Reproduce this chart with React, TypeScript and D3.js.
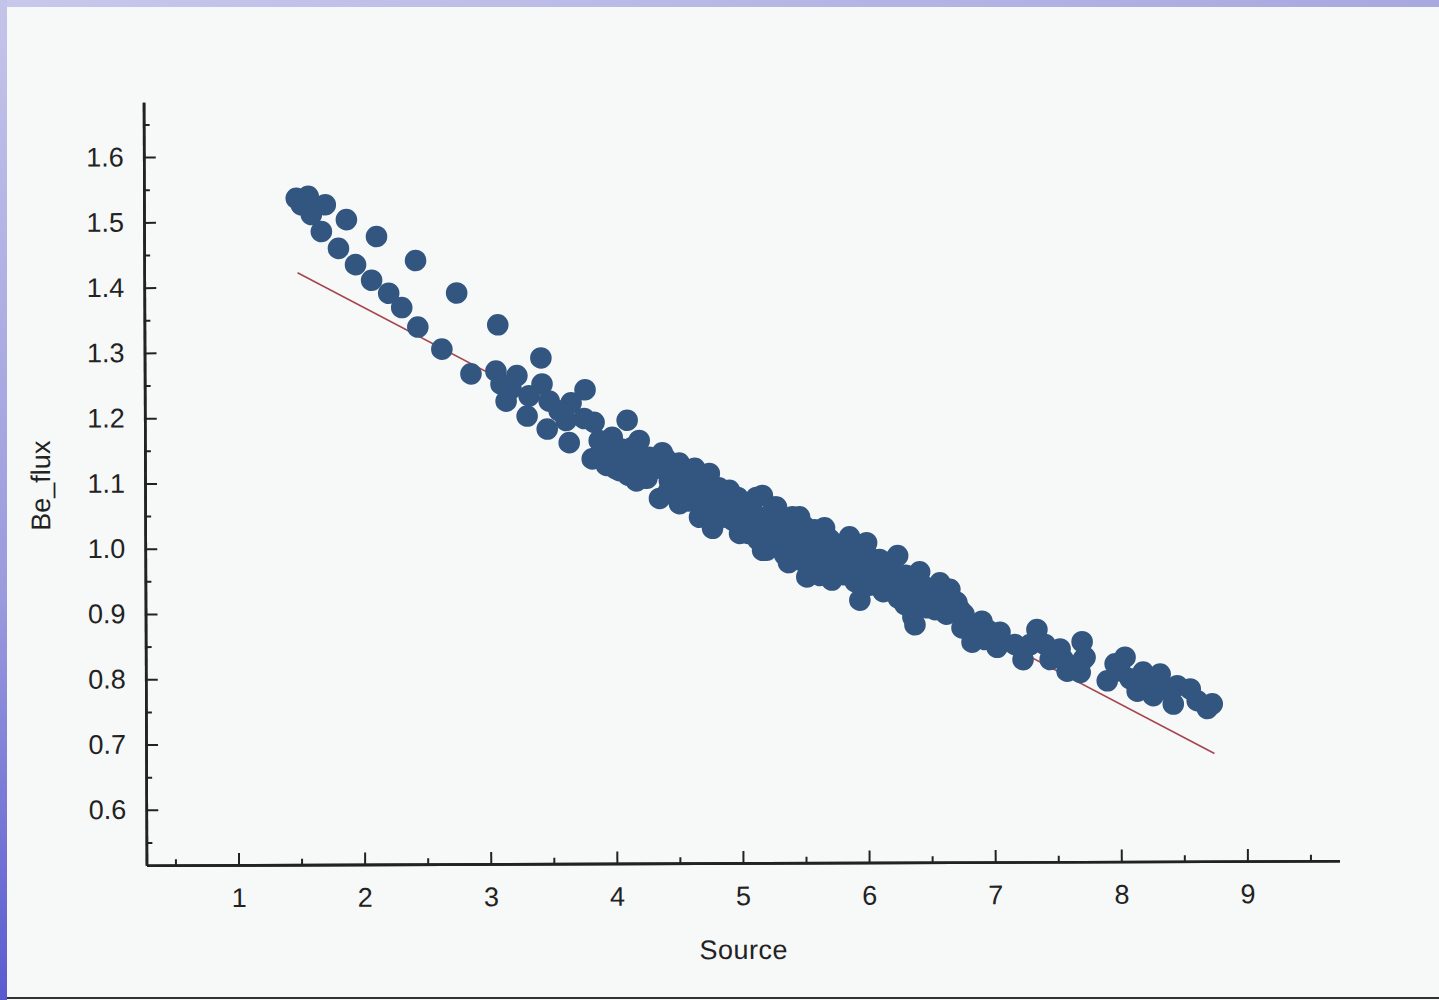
// @ts-nocheck
import React, { useEffect, useRef } from "react";
import * as d3 from "d3";

// Source values (x) and Be_flux values (y)
const sourceVals = [
  1.478, 1.573, 1.518, 1.542, 1.708, 1.597, 1.676, 1.875, 2.113, 1.811,
  1.946, 2.073, 2.208, 2.311, 2.422, 2.438, 2.747, 2.628, 3.072, 3.413,
  2.858, 3.056, 3.222, 3.096, 3.136, 3.421, 3.302, 3.477, 3.651, 3.762,
  3.461, 3.635, 3.611, 3.833, 4.095, 3.849, 3.976, 4.135, 4.032, 4.27,
  3.754, 3.175, 3.318, 3.556, 3.817, 4.373, 4.166, 4.349, 4.507, 4.745,
  4.507, 4.666, 4.904, 5.118, 4.769, 5.277, 4.983, 5.165, 5.403, 4.23,
  4.587, 4.825, 4.983, 4.428, 4.666, 4.309, 4.864, 5.063, 4.587, 4.11,
  3.952, 5.142, 5.221, 4.745, 3.873, 4.19, 5.165, 5.261, 5.459, 5.657,
  5.855, 5.99, 6.236, 6.41, 5.197, 5.515, 5.713, 5.935, 6.173, 6.355,
  6.57, 6.728, 5.38, 5.539, 5.697, 5.855, 6.014, 6.093, 6.252, 6.41,
  5.301, 5.578, 5.816, 6.014, 6.292, 6.53, 5.618, 5.459, 5.935, 5.34,
  6.173, 6.57, 6.371, 6.704, 6.744, 6.823, 6.902, 7.045, 7.021, 7.227,
  7.338, 7.521, 7.696, 7.704, 6.49, 6.609, 6.649, 6.926, 7.164, 7.283,
  7.402, 7.576, 7.68, 7.719, 7.894, 8.036, 7.957, 8.179, 8.314, 8.131,
  8.258, 8.449, 8.552, 8.607, 8.726, 8.687, 8.417, 8.076, 8.234, 8.354,
  7.997, 7.442, 7.545,
  // dense middle of the band
  3.9, 3.98, 4.05, 4.06, 4.15, 4.2, 4.25, 4.32, 4.4, 4.42,
  4.47, 4.55, 4.58, 4.63, 4.68, 4.72, 4.78, 4.82, 4.88, 4.93,
  4.97, 5.02, 5.05, 5.1, 5.13, 5.2, 5.25, 5.28, 5.32, 5.37,
  5.42, 5.45, 5.5, 5.53, 5.58, 5.62, 5.66, 5.7, 5.74, 5.78,
  5.83, 5.87, 5.9, 5.95, 6.0, 6.04, 6.08, 6.12, 6.16, 6.2,
  6.24, 6.3, 6.33, 6.38, 6.43, 6.47, 6.52, 6.58, 6.62, 6.66,
  6.76, 6.85, 6.95, 4.62, 4.75, 4.7, 4.85, 4.52, 4.45, 5.15,
  5.35, 6.05, 6.25, 6.35, 6.42, 6.55, 6.14, 5.97, 4.0, 4.1,
  3.93,
];
const beFluxVals = [
  1.536, 1.539, 1.526, 1.534, 1.526, 1.511, 1.485, 1.503, 1.477, 1.459,
  1.434, 1.41, 1.39, 1.368, 1.44, 1.338, 1.39, 1.304, 1.341, 1.29,
  1.266, 1.27, 1.263, 1.25, 1.224, 1.25, 1.201, 1.224, 1.221, 1.241,
  1.181, 1.16, 1.194, 1.191, 1.194, 1.137, 1.168, 1.152, 1.117, 1.137,
  1.197, 1.243, 1.232, 1.209, 1.135, 1.144, 1.101, 1.074, 1.128, 1.112,
  1.066, 1.045, 1.086, 1.075, 1.028, 1.06, 1.02, 0.994, 1.045, 1.117,
  1.086, 1.071, 1.055, 1.101, 1.094, 1.125, 1.048, 1.04, 1.117, 1.132,
  1.14, 1.025, 1.04, 1.078, 1.163, 1.163, 1.078, 1.06, 1.045, 1.028,
  1.014, 1.005, 0.985, 0.96, 0.994, 0.953, 0.948, 0.917, 0.943, 0.891,
  0.922, 0.902, 1.009, 1.002, 0.986, 0.979, 0.963, 0.979, 0.933, 0.925,
  1.032, 1.025, 0.956, 0.94, 0.91, 0.902, 0.971, 0.979, 0.994, 0.987,
  0.963, 0.943, 0.879, 0.913, 0.874, 0.852, 0.884, 0.867, 0.844, 0.825,
  0.871, 0.841, 0.852, 0.825, 0.917, 0.902, 0.933, 0.856, 0.848, 0.848,
  0.848, 0.807, 0.805, 0.828, 0.792, 0.828, 0.818, 0.805, 0.802, 0.776,
  0.769, 0.784, 0.779, 0.761, 0.756, 0.749, 0.756, 0.795, 0.787, 0.779,
  0.807, 0.825, 0.825,
  // dense middle of the band
  1.15, 1.135, 1.15, 1.125, 1.14, 1.12, 1.105, 1.12, 1.135, 1.085,
  1.11, 1.1, 1.07, 1.12, 1.075, 1.095, 1.055, 1.09, 1.065, 1.04,
  1.075, 1.06, 1.02, 1.05, 1.01, 1.03, 1.055, 1.005, 1.025, 0.975,
  1.02, 0.995, 1.03, 0.97, 1.0, 0.955, 0.99, 1.01, 0.965, 0.99,
  0.96, 0.995, 0.945, 0.975, 0.985, 0.945, 0.96, 0.93, 0.975, 0.95,
  0.92, 0.955, 0.93, 0.91, 0.94, 0.905, 0.925, 0.915, 0.895, 0.92,
  0.895, 0.875, 0.87, 1.095, 1.075, 1.06, 1.045, 1.085, 1.09, 1.035,
  1.0, 0.965, 0.94, 0.925, 0.92, 0.905, 0.95, 0.955, 1.12, 1.11,
  1.125,
];

// fitted line end points
const fitX = [1.486, 8.742];
const fitY = [1.422, 0.68];

const xTicks = [1, 2, 3, 4, 5, 6, 7, 8, 9];
const xMinor = [0.5, 1.5, 2.5, 3.5, 4.5, 5.5, 6.5, 7.5, 8.5, 9.5];
const yTicks = [0.6, 0.7, 0.8, 0.9, 1.0, 1.1, 1.2, 1.3, 1.4, 1.5, 1.6];
const yMinor = [0.55, 0.65, 0.75, 0.85, 0.95, 1.05, 1.15, 1.25, 1.35, 1.45, 1.55, 1.65];

const W = 1439;
const H = 1000;
const FONT = "'Liberation Sans', Arial, sans-serif";

const App = () => {
  const svgRef = useRef();

  useEffect(() => {
    const root = d3.select(svgRef.current);
    root.selectAll("*").remove();

    const defs = root.append("defs");
    const gl = defs
      .append("linearGradient")
      .attr("id", "leftEdge")
      .attr("x1", 0)
      .attr("y1", 0)
      .attr("x2", 0)
      .attr("y2", 1);
    gl.append("stop").attr("offset", "0%").attr("stop-color", "#c4c4ea");
    gl.append("stop").attr("offset", "60%").attr("stop-color", "#9a9ade");
    gl.append("stop").attr("offset", "100%").attr("stop-color", "#5a5ad0");
    const gt = defs
      .append("linearGradient")
      .attr("id", "topEdge")
      .attr("x1", 0)
      .attr("y1", 0)
      .attr("x2", 1)
      .attr("y2", 0);
    gt.append("stop").attr("offset", "0%").attr("stop-color", "#c8c8ec");
    gt.append("stop").attr("offset", "100%").attr("stop-color", "#a8a8e0");

    // paper + slide border
    root.append("rect").attr("width", W).attr("height", H).attr("fill", "#f7f8f8");
    root.append("rect").attr("width", W).attr("height", 7).attr("fill", "url(#topEdge)");
    root.append("rect").attr("width", 7).attr("height", H).attr("fill", "url(#leftEdge)");
    root
      .append("line")
      .attr("x1", 7)
      .attr("x2", W)
      .attr("y1", 998)
      .attr("y2", 998)
      .attr("stroke", "#333")
      .attr("stroke-width", 2);

    const x = d3.scaleLinear().domain([0.27, 9.73]).range([145, 1338]);
    const y = d3.scaleLinear().domain([0.515, 1.684]).range([863, 100]);

    // the scan is slightly tilted
    const svg = root.append("g").attr("transform", "rotate(-0.22, 740, 480)");

    // fit line
    const line = d3
      .line()
      .x((d) => x(d[0]))
      .y((d) => y(d[1]));
    svg
      .append("path")
      .attr("d", line(d3.zip(fitX, fitY)))
      .attr("fill", "none")
      .attr("stroke", "#a5464f")
      .attr("stroke-width", 1.6);

    // points
    svg
      .append("g")
      .selectAll("circle")
      .data(d3.zip(sourceVals, beFluxVals))
      .enter()
      .append("circle")
      .attr("cx", (d) => x(d[0]))
      .attr("cy", (d) => y(d[1]))
      .attr("r", 10.8)
      .attr("fill", "#325680");

    const styleAxis = (g) => {
      g.select(".domain").attr("stroke", "#222").attr("stroke-width", 2.6);
      g.selectAll(".tick line").attr("stroke", "#222").attr("stroke-width", 2);
      g.selectAll("text")
        .attr("fill", "#222")
        .style("font-family", FONT)
        .style("font-size", "27px");
    };

    // x axis minor + major
    svg
      .append("g")
      .attr("transform", "translate(0,863)")
      .call(d3.axisBottom(x).tickValues(xMinor).tickSizeInner(-6).tickSizeOuter(0).tickFormat(""))
      .call(styleAxis);
    svg
      .append("g")
      .attr("transform", "translate(0,863)")
      .call(
        d3
          .axisBottom(x)
          .tickValues(xTicks)
          .tickSizeInner(-12)
          .tickSizeOuter(0)
          .tickPadding(23)
          .tickFormat(d3.format("d")),
      )
      .call(styleAxis);

    // y axis minor + major
    svg
      .append("g")
      .attr("transform", "translate(145,0)")
      .call(d3.axisLeft(y).tickValues(yMinor).tickSizeInner(-6).tickSizeOuter(0).tickFormat(""))
      .call(styleAxis);
    svg
      .append("g")
      .attr("transform", "translate(145,0)")
      .call(
        d3
          .axisLeft(y)
          .tickValues(yTicks)
          .tickSizeInner(-12)
          .tickSizeOuter(0)
          .tickPadding(20)
          .tickFormat(d3.format(".1f")),
      )
      .call(styleAxis);

    // axis titles
    svg
      .append("text")
      .attr("x", 742)
      .attr("y", 959)
      .attr("text-anchor", "middle")
      .attr("fill", "#222")
      .style("font-family", FONT)
      .style("font-size", "27px")
      .style("letter-spacing", "0.5px")
      .text("Source");
    svg
      .append("text")
      .attr("transform", "translate(50,483) rotate(-90)")
      .attr("text-anchor", "middle")
      .attr("fill", "#222")
      .style("font-family", FONT)
      .style("font-size", "27px")
      .text("Be_flux");
  }, []);

  return (
    <svg
      ref={svgRef}
      width={W}
      height={H}
      style={{ position: "absolute", left: 0, top: 0, display: "block" }}
    ></svg>
  );
};

export default App;
